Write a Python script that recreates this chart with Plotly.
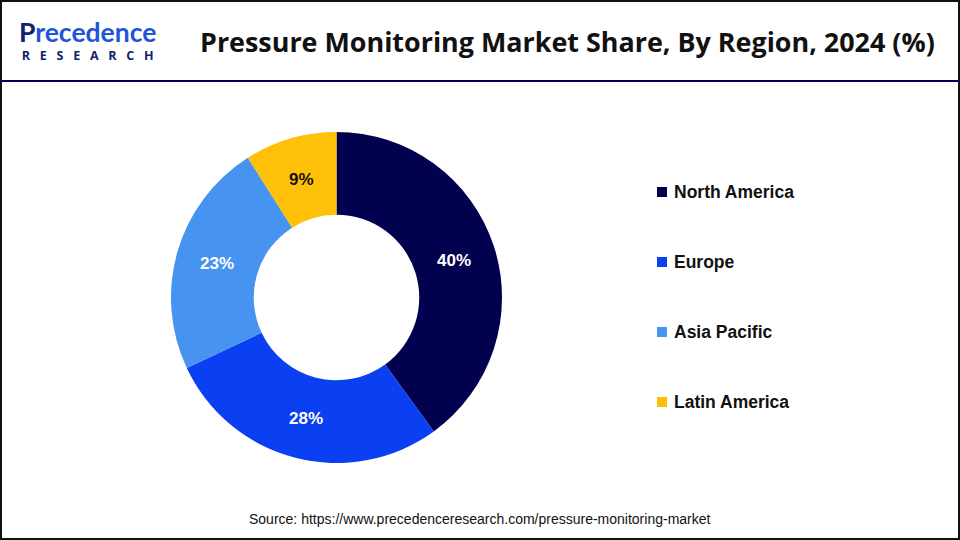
import math
import plotly.graph_objects as go

categories = ["North America", "Europe", "Asia Pacific", "Latin America"]
shares = [40, 28, 23, 9]
colors = ["#01014F", "#0A3FF2", "#4693F0", "#FFC107"]
label_colors = ["white", "white", "white", "#111111"]
title = "Pressure Monitoring Market Share, By Region, 2024 (%)"
source = "Source: https://www.precedenceresearch.com/pressure-monitoring-market"

W, H = 960, 540
px = lambda x: x / W
py = lambda y: 1 - y / H
cx, cy, r_mid = 336.5, 298.5, 124

fig = go.Figure(go.Pie(
    labels=categories, values=shares, sort=False, direction="clockwise", rotation=0,
    hole=0.5, marker=dict(colors=colors, line=dict(width=0)),
    textinfo="none",
    domain=dict(x=[px(171), px(502)], y=[py(463), py(132)]),
    showlegend=False, hoverinfo="label+percent",
))

shapes = [
    dict(type="rect", xref="paper", yref="paper", x0=px(1), x1=px(959), y0=py(539), y1=py(1),
         line=dict(color="#111111", width=2), fillcolor="rgba(0,0,0,0)"),
    dict(type="line", xref="paper", yref="paper", x0=px(1), x1=px(959), y0=py(81), y1=py(81),
         line=dict(color="#01014F", width=2)),
]
sp = "&nbsp;&nbsp;&nbsp;"
logo = ("<span style='font-size:26.5px;font-family:Lato;color:#12206E'><b>P</b></span>"
        "<span style='font-size:26.5px;font-family:Lato;color:#1F55D8'><b>recedence</b></span><br>"
        "<span style='font-size:12.5px;font-family:Open Sans;color:#12206E'><b>" + sp.join("RESEARCH") + "</b></span>")
annotations = [
    dict(text=f"<b>{title}</b>", x=px(567), y=py(42), font=dict(family="Open Sans", size=26.9, color="#111111")),
    dict(text=source, x=px(480), y=py(519), font=dict(family="Liberation Sans", size=14, color="#111111")),
    dict(text=logo, x=px(87), y=py(40), align="center", font=dict(family="Open Sans", size=14, color="#12206E")),
]
cum = 0
total = sum(shares)
for v, lc in zip(shares, label_colors):
    ang = 2 * math.pi * (cum + v / 2) / total
    cum += v
    annotations.append(dict(text=f"<b>{v}%</b>", x=px(cx + r_mid * math.sin(ang)), y=py(cy - r_mid * math.cos(ang)),
                            font=dict(family="Liberation Sans", size=17, color=lc)))
for i, (c, col) in enumerate(zip(categories, colors)):
    yc = 192 + i * 70
    shapes.append(dict(type="rect", xref="paper", yref="paper", x0=px(657), x1=px(667),
                       y0=py(yc + 5), y1=py(yc - 5), fillcolor=col, line=dict(width=0)))
    annotations.append(dict(text=f"<b>{c}</b>", x=px(672), y=py(yc), xanchor="left",
                            font=dict(family="Liberation Sans", size=17.5, color="#111111")))
for a in annotations:
    a.update(xref="paper", yref="paper", showarrow=False)
    a.setdefault("xanchor", "center")
    a["yanchor"] = "middle"

fig.update_layout(width=W, height=H, margin=dict(l=0, r=0, t=0, b=0), paper_bgcolor="white",
                  plot_bgcolor="white", shapes=shapes, annotations=annotations)
fig.write_html("out.html", config={"displayModeBar": False},
               post_script="document.body.style.margin='0';document.documentElement.style.overflow='hidden';")
